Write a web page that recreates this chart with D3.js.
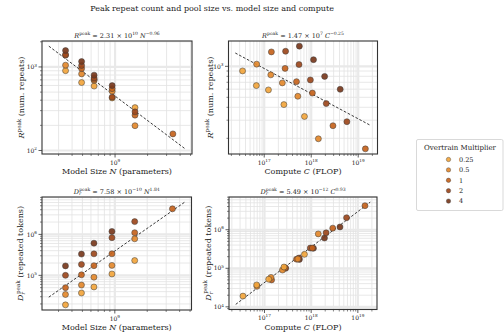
<!DOCTYPE html>
<html>
<head>
<meta charset="UTF-8">
<title>Peak repeat count and pool size</title>
<script src="https://cdn.jsdelivr.net/npm/d3@7"></script>
<style>
  body { margin: 0; background: #fff; }
  text { font-family: "DejaVu Serif", serif; fill: #222; }
</style>
</head>
<body>
<script>
// Overtrain multipliers (legend) and their colours
var multipliers = [0.25, 0.5, 1, 2, 4];
var multLabels = ["0.25", "0.5", "1", "2", "4"];
var multColors = ["#f2a53c", "#e3882b", "#c5631c", "#9d481c", "#78381c"];

// one entry per run: model size N, multiplier, compute C, peak repeats, repeated tokens
var paramsN = [3.48e8, 3.48e8, 3.48e8, 3.48e8, 3.48e8,
               4.9e8, 4.9e8, 4.9e8, 4.9e8, 4.9e8,
               6.4e8, 6.4e8, 6.4e8, 6.4e8, 6.4e8,
               9.4e8, 9.4e8, 9.4e8, 9.4e8, 9.4e8,
               1.53e9, 1.53e9, 1.53e9, 1.53e9,
               3.43e9];
var runMult = [0.25, 0.5, 1, 2, 4,
               0.25, 0.5, 1, 2, 4,
               0.25, 0.5, 1, 2, 4,
               0.25, 0.5, 1, 2, 4,
               0.25, 0.5, 1, 2,
               1];
var computeC = [3.46e16, 6.9e16, 1.42e17, 2.85e17, 5.6e17,
                6.8e16, 1.38e17, 2.78e17, 5.5e17, 1.12e18,
                1.23e17, 2.43e17, 4.86e17, 9.6e17, 1.93e18,
                2.62e17, 5.19e17, 1.06e18, 2.09e18, 4.14e18,
                7.18e17, 1.42e18, 2.9e18, 5.74e18,
                1.42e19];
var peakRepeats = [902, 1050, 1380, 1400, 1570,
                   650, 826, 955, 1040, 1160,
                   590, 690, 710, 738, 798,
                   425, 512, 550, 435, 598,
                   326, 198, 265, 290,
                   158];
var repeatTokens = [19e3, 34e3, 50e3, 100e3, 170e3,
                    37e3, 58e3, 103e3, 185e3, 330e3,
                    52e3, 90e3, 172e3, 335e3, 610e3,
                    108e3, 175e3, 335e3, 830e3, 1.18e6,
                    230e3, 780e3, 1.1e6, 2.05e6,
                    4.2e6];

var W = 504, H = 336;
var svg = d3.select("body").append("svg")
  .attr("width", W).attr("height", H);

// write math-ish text made of parts {t, it, sup, sub}
function mathText(sel, parts, fs) {
  var shift = 0;
  parts.forEach(function(p) {
    var ts = sel.append("tspan").text(p.t);
    var target = 0, size = fs;
    if (p.sup) { target = -fs * 0.42; size = fs * 0.7; }
    if (p.sub) { target = fs * 0.25; size = fs * 0.7; }
    ts.attr("dy", target - shift).style("font-size", size + "px");
    if (p.it) ts.style("font-style", "italic");
    if (p.dx) ts.attr("dx", p.dx);
    shift = target;
  });
}

function pow10Parts(e) {
  return [{t: "10"}, {t: String(e).replace("-", "\u2212"), sup: true}];
}

svg.append("text")
  .attr("x", 212).attr("y", 11)
  .attr("text-anchor", "middle")
  .style("font-size", "8px")
  .text("Peak repeat count and pool size vs. model size and compute");

var Rpk = [{t: "R", it: true}, {t: "peak", sup: true}];
var Dpk = [{t: "D", it: true}, {t: "r", it: true, sub: true}, {t: "peak", sup: true, dx: -2}];

var panels = [
  {box: [42, 41, 192, 154], xs: paramsN, ys: peakRepeats,
   title: Rpk.concat([{t: " = 2.31 \u00d7 10"}, {t: "10", sup: true}, {t: " "}, {t: "N", it: true}, {t: "\u22120.96", sup: true}]),
   xlabel: [{t: "Model Size "}, {t: "N", it: true}, {t: " (parameters)"}],
   ylabel: Rpk.concat([{t: " (num. repeats)"}]), ylx: 21.5},
  {box: [228.5, 41, 377.5, 154], xs: computeC, ys: peakRepeats,
   title: Rpk.concat([{t: " = 1.47 \u00d7 10"}, {t: "7", sup: true}, {t: " "}, {t: "C", it: true}, {t: "\u22120.25", sup: true}]),
   xlabel: [{t: "Compute "}, {t: "C", it: true}, {t: " (FLOP)"}],
   ylabel: Rpk.concat([{t: " (num. repeats)"}]), ylx: 210},
  {box: [42, 197, 191.5, 310], xs: paramsN, ys: repeatTokens,
   title: Dpk.concat([{t: " = 7.58 \u00d7 10"}, {t: "\u221210", sup: true}, {t: " "}, {t: "N", it: true}, {t: "1.84", sup: true}]),
   xlabel: [{t: "Model Size "}, {t: "N", it: true}, {t: " (parameters)"}],
   ylabel: Dpk.concat([{t: " (repeated tokens)"}]), ylx: 20.5},
  {box: [229, 197, 377, 309.5], xs: computeC, ys: repeatTokens,
   title: Dpk.concat([{t: " = 5.49 \u00d7 10"}, {t: "\u221212", sup: true}, {t: " "}, {t: "C", it: true}, {t: "0.93", sup: true}]),
   xlabel: [{t: "Compute "}, {t: "C", it: true}, {t: " (FLOP)"}],
   ylabel: Dpk.concat([{t: " (repeated tokens)"}]), ylx: 208}
];

panels.forEach(function(p, pi) {
  var x0 = p.box[0], y0 = p.box[1], x1 = p.box[2], y1 = p.box[3];
  var lx = p.xs.map(Math.log10), ly = p.ys.map(Math.log10);

  // log-log least squares fit
  var mx = d3.mean(lx), my = d3.mean(ly);
  var b = d3.sum(lx, function(v, i) { return (v - mx) * (ly[i] - my); }) /
          d3.sum(lx, function(v) { return (v - mx) * (v - mx); });
  var a = my - b * mx;
  var fitX = [d3.min(p.xs) * 0.7, d3.max(p.xs) * 1.3];
  var fitPts = fitX.map(function(v) { return [v, Math.pow(10, a + b * Math.log10(v))]; });

  // autoscale like matplotlib: 5% margin in log space
  function dom(vals) {
    var e = d3.extent(vals.map(Math.log10)), m = (e[1] - e[0]) * 0.05;
    return [Math.pow(10, e[0] - m), Math.pow(10, e[1] + m)];
  }
  var x = d3.scaleLog().domain(dom(fitX.concat(p.xs))).range([x0, x1]);
  var y = d3.scaleLog().domain(dom(fitPts.map(function(d) { return d[1]; }).concat(p.ys))).range([y1, y0]);

  function logTicks(d) {
    var major = [], minor = [];
    for (var e = Math.floor(Math.log10(d[0])); e <= Math.ceil(Math.log10(d[1])); e++) {
      for (var k = 1; k < 10; k++) {
        var v = k * Math.pow(10, e);
        if (v < d[0] || v > d[1]) continue;
        if (k === 1) major.push(e); else minor.push(v);
      }
    }
    return {major: major, minor: minor};
  }
  var tx = logTicks(x.domain()), ty = logTicks(y.domain());
  var g = svg.append("g");

  // grid
  g.selectAll(null).data(tx.minor).enter().append("line")
    .attr("x1", function(d) { return x(d); }).attr("x2", function(d) { return x(d); })
    .attr("y1", y0).attr("y2", y1).attr("stroke", "#e2e2e2").attr("stroke-width", 0.8);
  g.selectAll(null).data(ty.minor).enter().append("line")
    .attr("y1", function(d) { return y(d); }).attr("y2", function(d) { return y(d); })
    .attr("x1", x0).attr("x2", x1).attr("stroke", "#e2e2e2").attr("stroke-width", 0.8);
  g.selectAll(null).data(tx.major).enter().append("line")
    .attr("x1", function(e) { return x(Math.pow(10, e)); }).attr("x2", function(e) { return x(Math.pow(10, e)); })
    .attr("y1", y0).attr("y2", y1).attr("stroke", "#e9e9e9").attr("stroke-width", 2.2);
  g.selectAll(null).data(ty.major).enter().append("line")
    .attr("y1", function(e) { return y(Math.pow(10, e)); }).attr("y2", function(e) { return y(Math.pow(10, e)); })
    .attr("x1", x0).attr("x2", x1).attr("stroke", "#e9e9e9").attr("stroke-width", 2.2);

  // fit line
  g.append("path")
    .attr("d", d3.line().x(function(d) { return x(d[0]); }).y(function(d) { return y(d[1]); })(fitPts))
    .attr("fill", "none").attr("stroke", "#222").attr("stroke-width", 0.9)
    .attr("stroke-dasharray", "2.6,1.8");

  // points
  g.selectAll(null).data(d3.range(p.xs.length)).enter().append("circle")
    .attr("cx", function(i) { return x(p.xs[i]); })
    .attr("cy", function(i) { return y(p.ys[i]); })
    .attr("r", 3)
    .attr("fill", function(i) { return multColors[multipliers.indexOf(runMult[i])]; })
    .attr("fill-opacity", 0.92)
    .attr("stroke", "#3a3a3a").attr("stroke-width", 0.5);

  // frame
  g.append("rect").attr("x", x0).attr("y", y0).attr("width", x1 - x0).attr("height", y1 - y0)
    .attr("fill", "none").attr("stroke", "#333").attr("stroke-width", 1.1);

  // ticks
  g.selectAll(null).data(tx.minor).enter().append("line")
    .attr("x1", function(d) { return x(d); }).attr("x2", function(d) { return x(d); })
    .attr("y1", y1).attr("y2", y1 + 2).attr("stroke", "#333").attr("stroke-width", 0.6);
  g.selectAll(null).data(ty.minor).enter().append("line")
    .attr("y1", function(d) { return y(d); }).attr("y2", function(d) { return y(d); })
    .attr("x1", x0).attr("x2", x0 - 2).attr("stroke", "#333").attr("stroke-width", 0.6);
  tx.major.forEach(function(e) {
    var xv = x(Math.pow(10, e));
    g.append("line").attr("x1", xv).attr("x2", xv).attr("y1", y1).attr("y2", y1 + 3.5)
      .attr("stroke", "#333").attr("stroke-width", 0.8);
    mathText(g.append("text").attr("x", xv).attr("y", y1 + 10.5).attr("text-anchor", "middle")
      .style("font-size", "6px"), pow10Parts(e), 6);
  });
  ty.major.forEach(function(e) {
    var yv = y(Math.pow(10, e));
    g.append("line").attr("y1", yv).attr("y2", yv).attr("x1", x0).attr("x2", x0 - 3.5)
      .attr("stroke", "#333").attr("stroke-width", 0.8);
    mathText(g.append("text").attr("x", x0 - 5).attr("y", yv + 2.2).attr("text-anchor", "end")
      .style("font-size", "6px"), pow10Parts(e), 6);
  });

  // titles and labels
  mathText(g.append("text").attr("x", (x0 + x1) / 2).attr("y", y0 - 3.5)
    .attr("text-anchor", "middle").style("font-size", "6.5px"), p.title, 6.5);
  mathText(g.append("text").attr("x", (x0 + x1) / 2).attr("y", y1 + 20)
    .attr("text-anchor", "middle").style("font-size", "8px"), p.xlabel, 8);
  mathText(g.append("text").attr("transform", "translate(" + (p.ylx + 2.5) + "," + ((y0 + y1) / 2) + ") rotate(-90)")
    .attr("text-anchor", "middle").style("font-size", "8px"), p.ylabel, 8);
});

// legend
var leg = svg.append("g");
leg.append("rect").attr("x", 416.5).attr("y", 139.5).attr("width", 86.5).attr("height", 71)
  .attr("rx", 1.5).attr("fill", "#fff").attr("stroke", "#cfcfcf").attr("stroke-width", 0.8);
leg.append("text").attr("x", 460).attr("y", 150).attr("text-anchor", "middle")
  .style("font-size", "7px").text("Overtrain Multiplier");
multLabels.forEach(function(lab, i) {
  var cy = 159.5 + i * 10.4;
  leg.append("circle").attr("cx", 448.5).attr("cy", cy).attr("r", 2.2)
    .attr("fill", multColors[i]).attr("fill-opacity", 0.92)
    .attr("stroke", "#3a3a3a").attr("stroke-width", 0.4);
  leg.append("text").attr("x", 459).attr("y", cy + 2.2).style("font-size", "6.5px").text(lab);
});
</script>
</body>
</html>
